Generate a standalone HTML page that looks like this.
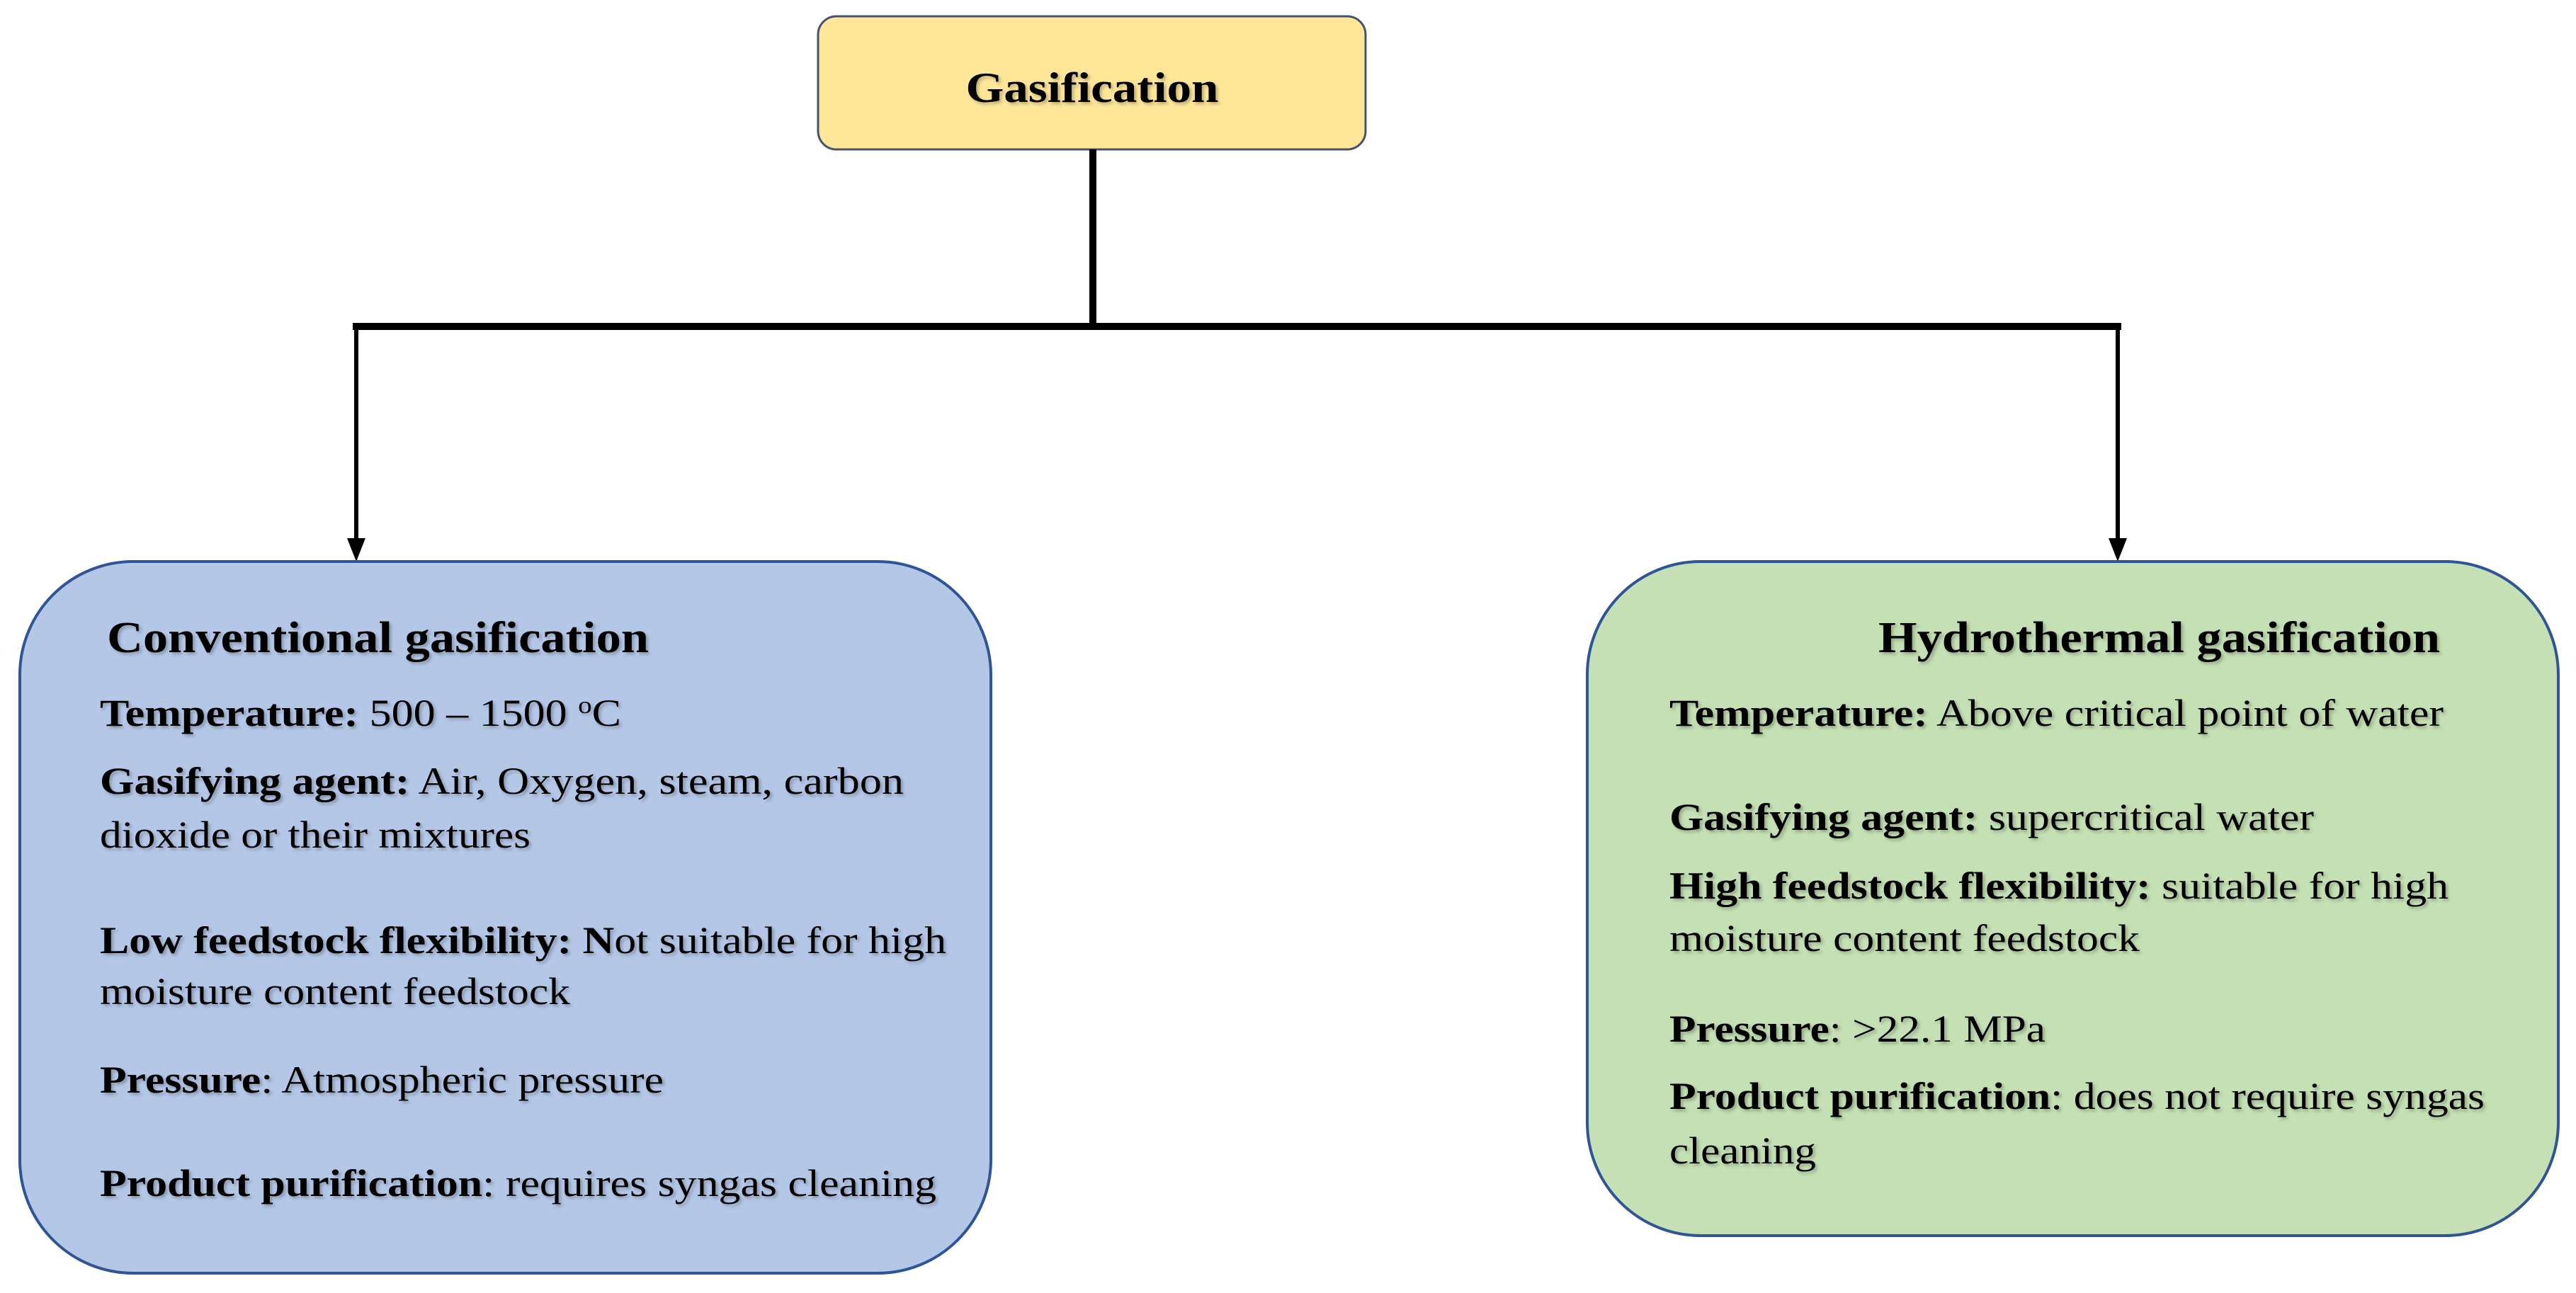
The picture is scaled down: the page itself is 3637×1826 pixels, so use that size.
<!DOCTYPE html>
<html><head><meta charset="utf-8"><style>
html,body{margin:0;padding:0;background:#fff;}
svg{display:block;}
text{font-family:"Liberation Serif","DejaVu Serif",serif;fill:#000;}
.b{font-weight:bold;}
</style></head><body>
<svg width="3637" height="1826" viewBox="0 0 3637 1826" xmlns="http://www.w3.org/2000/svg">
<defs>
<filter id="sh" x="-5%" y="-5%" width="110%" height="120%"><feDropShadow dx="3" dy="3" stdDeviation="2" flood-color="#000" flood-opacity="0.25"/></filter>
</defs>
<!-- top box -->
<rect x="1155" y="23" width="773" height="188" rx="26" fill="#FFE699" stroke="#44546A" stroke-width="3"/>
<text x="1542" y="144" class="b" font-size="60" text-anchor="middle" textLength="357" lengthAdjust="spacingAndGlyphs" filter="url(#sh)">Gasification</text>
<!-- connectors -->
<line x1="1543" y1="211" x2="1543" y2="464" stroke="#000" stroke-width="10"/>
<line x1="498" y1="461" x2="2995" y2="461" stroke="#000" stroke-width="10"/>
<line x1="503" y1="456" x2="503" y2="765" stroke="#000" stroke-width="6"/>
<line x1="2990" y1="456" x2="2990" y2="765" stroke="#000" stroke-width="6"/>
<polygon points="490,760 516,760 503,793" fill="#000"/>
<polygon points="2977,760 3003,760 2990,793" fill="#000"/>
<!-- left box -->
<rect x="28" y="793" width="1371" height="1005" rx="160" fill="#B4C7E7" stroke="#2F5597" stroke-width="4"/>
<g filter="url(#sh)">
<text x="151" y="921" class="b" font-size="62" textLength="765" lengthAdjust="spacingAndGlyphs">Conventional  gasification</text>
<text x="141" y="1025" font-size="54" textLength="736" lengthAdjust="spacingAndGlyphs"><tspan class="b">Temperature:</tspan> 500 – 1500 <tspan font-size="34" dy="-18">o</tspan><tspan dy="18">C</tspan></text>
<text x="141" y="1121" font-size="54" textLength="1135" lengthAdjust="spacingAndGlyphs"><tspan class="b">Gasifying agent:</tspan> Air, Oxygen, steam, carbon</text>
<text x="141" y="1197" font-size="54" textLength="608" lengthAdjust="spacingAndGlyphs">dioxide or their mixtures</text>
<text x="141" y="1346" font-size="54" textLength="1195" lengthAdjust="spacingAndGlyphs"><tspan class="b">Low feedstock flexibility: N</tspan>ot suitable for high</text>
<text x="141" y="1418" font-size="54" textLength="664" lengthAdjust="spacingAndGlyphs">moisture content feedstock</text>
<text x="141" y="1543" font-size="54" textLength="796" lengthAdjust="spacingAndGlyphs"><tspan class="b">Pressure</tspan>: Atmospheric pressure</text>
<text x="141" y="1689" font-size="54" textLength="1181" lengthAdjust="spacingAndGlyphs"><tspan class="b">Product purification</tspan>: requires syngas  cleaning</text>
</g>
<!-- right box -->
<rect x="2241" y="793" width="1371" height="952" rx="160" fill="#C5E0B4" stroke="#2F5597" stroke-width="4"/>
<g filter="url(#sh)">
<text x="2652" y="921" class="b" font-size="62" textLength="793" lengthAdjust="spacingAndGlyphs">Hydrothermal  gasification</text>
<text x="2357" y="1025" font-size="54" textLength="1093" lengthAdjust="spacingAndGlyphs"><tspan class="b">Temperature:</tspan> Above critical point of water</text>
<text x="2357" y="1172" font-size="54" textLength="910" lengthAdjust="spacingAndGlyphs"><tspan class="b">Gasifying agent:</tspan> supercritical water</text>
<text x="2357" y="1269" font-size="54" textLength="1100" lengthAdjust="spacingAndGlyphs"><tspan class="b">High feedstock flexibility:</tspan> suitable for high</text>
<text x="2357" y="1343" font-size="54" textLength="664" lengthAdjust="spacingAndGlyphs">moisture content feedstock</text>
<text x="2357" y="1471" font-size="54" textLength="531" lengthAdjust="spacingAndGlyphs"><tspan class="b">Pressure</tspan>: &gt;22.1 MPa</text>
<text x="2357" y="1566" font-size="54" textLength="1151" lengthAdjust="spacingAndGlyphs"><tspan class="b">Product purification</tspan>: does not require syngas</text>
<text x="2357" y="1643" font-size="54" textLength="207" lengthAdjust="spacingAndGlyphs">cleaning</text>
</g>
</svg>
</body></html>
